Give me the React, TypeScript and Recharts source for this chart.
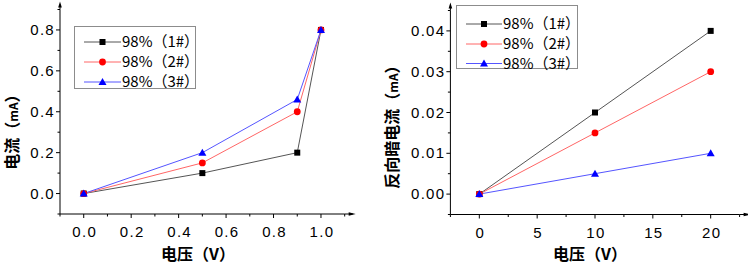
import React from 'react';
import { LineChart, Line, XAxis, YAxis, Legend, ReferenceDot } from 'recharts';

// forward I-V (left panel)
const fwdVoltage = [0, 0.5, 0.9, 1.0];
const fwd1 = [0, 0.1, 0.2, 0.8];
const fwd2 = [0, 0.15, 0.4, 0.8];
const fwd3 = [0, 0.2, 0.46, 0.8];

// reverse dark current (right panel)
const revVoltage = [0, 10, 20];
const rev1 = [0, 0.02, 0.04];
const rev2 = [0, 0.015, 0.03];
const rev3 = [0, 0.005, 0.01];

const seriesNames = ['98%（1#）', '98%（2#）', '98%（3#）'];

const fwdXMajor = [0, 0.2, 0.4, 0.6, 0.8, 1.0];
const fwdXMinor = [-0.1, 0.1, 0.3, 0.5, 0.7, 0.9, 1.1];
const fwdYMajor = [0, 0.2, 0.4, 0.6, 0.8];
const fwdYMinor = [-0.1, 0.1, 0.3, 0.5, 0.7, 0.9];

const revXMajor = [0, 5, 10, 15, 20];
const revXMinor = [-2.5, 2.5, 7.5, 12.5, 17.5, 22.5];
const revYMajor = [0, 0.01, 0.02, 0.03, 0.04];
const revYMinor = [-0.005, 0.005, 0.015, 0.025, 0.035, 0.045];

const lineColors = ['#555555', '#ff6666', '#5555ff'];
const markColors = ['#000000', '#ff0000', '#0000ff'];

const fwdData = fwdVoltage.map((v, i) => ({ v, s1: fwd1[i], s2: fwd2[i], s3: fwd3[i] }));
const revData = revVoltage.map((v, i) => ({ v, s1: rev1[i], s2: rev2[i], s3: rev3[i] }));

const sortTicks = (a: number[], b: number[]) => [...a, ...b].sort((p, q) => p - q);
const isIn = (list: number[], v: number) => list.some((m) => Math.abs(m - v) < 1e-9);

const tickFont = { fontFamily: 'Liberation Sans, Arial, sans-serif', fontSize: 15, letterSpacing: 1.3 };

const Marker = ({ kind, cx, cy }: any) => {
  if (cx == null || cy == null) return null;
  if (kind === 0) return <rect x={cx - 3} y={cy - 3} width={6} height={6} fill={markColors[0]} />;
  if (kind === 1) return <circle cx={cx} cy={cy} r={3.4} fill={markColors[1]} />;
  return <polygon points={`${cx},${cy - 4} ${cx - 4},${cy + 3} ${cx + 4},${cy + 3}`} fill={markColors[2]} />;
};

const makeXTick = (majors: number[], fmt: (v: number) => string) => (props: any) => {
  const { x, y, payload } = props;
  const major = isIn(majors, payload.value);
  return (
    <g>
      <line x1={x} x2={x} y1={y} y2={y + (major ? 4 : 2.5)} stroke="#000" />
      {major && (
        <text x={x + 1} y={y + 23} textAnchor="middle" fill="#000" style={tickFont}>
          {fmt(payload.value)}
        </text>
      )}
    </g>
  );
};

const makeYTick = (majors: number[], fmt: (v: number) => string) => (props: any) => {
  const { x, y, payload } = props;
  const major = isIn(majors, payload.value);
  return (
    <g>
      <line x1={x} x2={x - (major ? 4 : 2.5)} y1={y} y2={y} stroke="#000" />
      {major && (
        <text x={x - 5} y={y + 5} textAnchor="end" fill="#000" style={tickFont}>
          {fmt(payload.value)}
        </text>
      )}
    </g>
  );
};

const XArrow = ({ cx, cy }: any) => (
  <g>
    <line x1={cx} x2={cx + 8} y1={cy} y2={cy} stroke="#000" />
    <polygon points={`${cx + 11},${cy} ${cx + 4},${cy - 1.8} ${cx + 4},${cy + 1.8}`} fill="#000" />
  </g>
);

const YArrow = ({ cx, cy }: any) => (
  <g>
    <line x1={cx} x2={cx} y1={cy} y2={cy - 5} stroke="#000" />
    <polygon points={`${cx},${cy - 8} ${cx - 1.8},${cy - 2} ${cx + 1.8},${cy - 2}`} fill="#000" />
  </g>
);

const makeLegend = (rows: number[], lineX: [number, number]) => () => (
  <div style={{ width: '100%', height: '100%', border: '1px solid #8c8c8c', boxSizing: 'border-box', background: '#fff' }}>
    <svg width="120" height="100%" style={{ display: 'block', overflow: 'visible' }}>
      {seriesNames.map((name, i) => (
        <g key={name}>
          <line x1={lineX[0]} x2={lineX[1]} y1={rows[i]} y2={rows[i]} stroke={lineColors[i]} />
          <Marker kind={i} cx={(lineX[0] + lineX[1]) / 2} cy={rows[i]} />
          <text x={lineX[1] + 1} y={rows[i] + 5} fill="#000" style={{ fontFamily: 'Noto Sans CJK SC, sans-serif', fontSize: 15 }}>
            {name}
          </text>
        </g>
      ))}
    </svg>
  </div>
);

const seriesLines = () =>
  ['s1', 's2', 's3'].map((key, i) => (
    <Line
      key={key}
      type="linear"
      dataKey={key}
      name={seriesNames[i]}
      stroke={lineColors[i]}
      strokeWidth={1}
      isAnimationActive={false}
      dot={(p: any) => <Marker key={`${key}-${p.index}`} kind={i} cx={p.cx} cy={p.cy} />}
      activeDot={false}
    />
  ));

const titleFont = { fontFamily: 'Noto Sans CJK SC, sans-serif', fontSize: 16, fontWeight: 700 };

const App = () => {
  return (
    <div style={{ position: 'absolute', left: 0, top: 0, width: 748, height: 264, background: '#fff' }}>
      <div style={{ position: 'absolute', left: 0, top: 0 }}>
        <LineChart width={374} height={264} data={fwdData} margin={{ top: 9.5, right: 29.3, left: 0, bottom: 0 }}>
          <XAxis
            type="number"
            dataKey="v"
            domain={[-0.1, 1.1]}
            ticks={sortTicks(fwdXMajor, fwdXMinor)}
            interval={0}
            height={50}
            tickSize={0}
            tickMargin={0}
            tickLine={false}
            axisLine={{ stroke: '#000' }}
            tick={makeXTick(fwdXMajor, (v) => v.toFixed(1))}
          />
          <YAxis
            type="number"
            domain={[-0.1, 0.9]}
            ticks={sortTicks(fwdYMajor, fwdYMinor)}
            interval={0}
            width={60}
            tickSize={0}
            tickMargin={0}
            tickLine={false}
            axisLine={{ stroke: '#000' }}
            tick={makeYTick(fwdYMajor, (v) => v.toFixed(1))}
          />
          {seriesLines()}
          <ReferenceDot x={1.1} y={-0.1} ifOverflow="visible" shape={XArrow} />
          <ReferenceDot x={-0.1} y={0.9} ifOverflow="visible" shape={YArrow} />
          <Legend
            layout="vertical"
            align="center"
            verticalAlign="middle"
            wrapperStyle={{ left: 74, top: 26, width: 122, height: 63 }}
            content={makeLegend([15, 35, 55], [9, 46])}
          />
        </LineChart>
      </div>
      <div style={{ position: 'absolute', left: 374, top: 0 }}>
        <LineChart width={374} height={264} data={revData} margin={{ top: 10.5, right: 8.4, left: 0, bottom: 0 }}>
          <XAxis
            type="number"
            dataKey="v"
            domain={[-2.5, 22.5]}
            ticks={sortTicks(revXMajor, revXMinor)}
            interval={0}
            height={49.5}
            tickSize={0}
            tickMargin={0}
            tickLine={false}
            axisLine={{ stroke: '#000' }}
            tick={makeXTick(revXMajor, (v) => String(v))}
          />
          <YAxis
            type="number"
            domain={[-0.005, 0.045]}
            ticks={sortTicks(revYMajor, revYMinor)}
            interval={0}
            width={76.4}
            tickSize={0}
            tickMargin={0}
            tickLine={false}
            axisLine={{ stroke: '#000' }}
            tick={makeYTick(revYMajor, (v) => v.toFixed(2))}
          />
          {seriesLines()}
          <ReferenceDot x={22.5} y={-0.005} ifOverflow="visible" shape={XArrow} />
          <ReferenceDot x={-2.5} y={0.045} ifOverflow="visible" shape={YArrow} />
          <Legend
            layout="vertical"
            align="center"
            verticalAlign="middle"
            wrapperStyle={{ left: 82, top: 5, width: 122, height: 64 }}
            content={makeLegend([18, 38, 57.5], [9, 45])}
          />
        </LineChart>
      </div>
      <svg width={748} height={264} style={{ position: 'absolute', left: 0, top: 0, pointerEvents: 'none' }}>
        <text x={198} y={260} textAnchor="middle" style={titleFont}>电压（V）</text>
        <text x={590} y={260} textAnchor="middle" style={titleFont}>电压（V）</text>
        <text transform="translate(18,128) rotate(-90)" textAnchor="middle" style={titleFont}>
          电流（<tspan fontSize={12}>mA</tspan>）
        </text>
        <text transform="translate(398,123) rotate(-90)" textAnchor="middle" style={titleFont}>
          反向暗电流（<tspan fontSize={12}>mA</tspan>）
        </text>
      </svg>
    </div>
  );
};

export default App;
